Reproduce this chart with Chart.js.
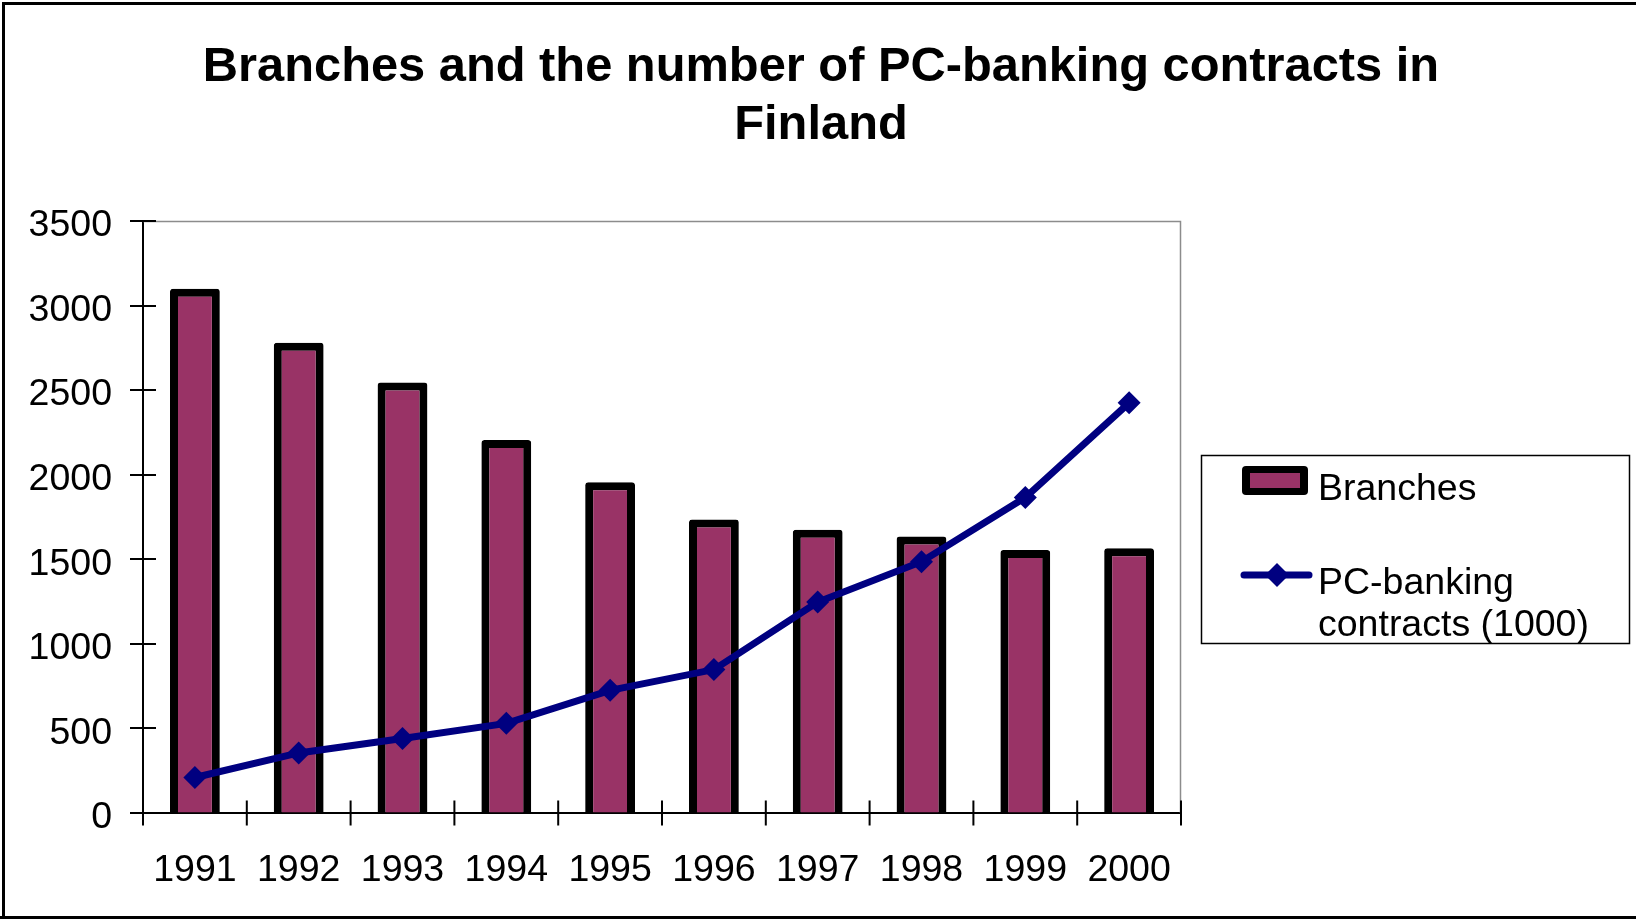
<!DOCTYPE html>
<html>
<head>
<meta charset="utf-8">
<script src="https://cdn.jsdelivr.net/npm/chart.js@4.4.1/dist/chart.umd.min.js"></script>
<style>
  html, body { margin: 0; padding: 0; background: #ffffff; }
  #wrap { position: relative; width: 1636px; height: 919px; }
  canvas { display: block; }
</style>
</head>
<body>
<div id="wrap"><canvas id="c" width="1636" height="919"></canvas></div>
<script>
// ---- data ----
const titleLines = ['Branches and the number of PC-banking contracts in', 'Finland'];
const years = ['1991', '1992', '1993', '1994', '1995', '1996', '1997', '1998', '1999', '2000'];
const branches = [3100, 2780, 2545, 2205, 1955, 1735, 1675, 1635, 1555, 1565];
const pcBanking = [210, 355, 440, 530, 725, 848, 1247, 1486, 1865, 2425];
const branchesLabel = ['Branches'];
const pcBankingLabel = ['PC-banking', 'contracts (1000)'];
const yMin = 0, yMax = 3500, yStep = 500;

const FONT = "'Liberation Sans', Arial, sans-serif";
const BAR_FILL = '#993366';
const LINE_COL = '#000080';

const decorPlugin = {
  id: 'decor',
  beforeDatasetsDraw(chart) {
    const ctx = chart.ctx, a = chart.chartArea;
    ctx.save();
    ctx.strokeStyle = '#8c8c8c';
    ctx.lineWidth = 1.5;
    ctx.beginPath();
    ctx.moveTo(a.left, a.top + 0.5);
    ctx.lineTo(a.right - 0.5, a.top + 0.5);
    ctx.lineTo(a.right - 0.5, a.bottom);
    ctx.stroke();
    ctx.restore();
  },
  afterDraw(chart) {
    const ctx = chart.ctx, a = chart.chartArea;
    const xs = chart.scales.x, ys = chart.scales.y;
    ctx.save();
    // title, centred on the whole canvas
    ctx.fillStyle = '#000';
    ctx.font = 'bold 48.8px ' + FONT;
    ctx.textAlign = 'center';
    ctx.textBaseline = 'middle';
    titleLines.forEach((s, i) => ctx.fillText(s, chart.width / 2 + 3, 68 + i * 57.5));

    // axis tick marks crossing the axes
    ctx.strokeStyle = '#000';
    ctx.lineWidth = 2;
    ctx.beginPath();
    ys.ticks.forEach((t, i) => {
      const py = Math.round(ys.getPixelForTick(i));
      ctx.moveTo(a.left - 13, py);
      ctx.lineTo(a.left + 13, py);
    });
    const n = years.length;
    for (let i = 0; i <= n; i++) {
      const px = i === 0 ? xs.left : (i === n ? xs.right : (xs.getPixelForValue(i - 1) + xs.getPixelForValue(i)) / 2);
      ctx.moveTo(px, a.bottom - 12.5);
      ctx.lineTo(px, a.bottom + 12.5);
    }
    ctx.stroke();

    // legend
    const lx = 1201, ly = 455, lw = 428, lh = 188;
    ctx.lineWidth = 1.5;
    ctx.strokeStyle = '#000';
    ctx.strokeRect(lx + 0.5, ly + 0.5, lw, lh);
    // bar swatch
    ctx.fillStyle = '#000';
    roundRect(ctx, 1242, 466, 66, 29, 4);
    ctx.fill();
    ctx.fillStyle = BAR_FILL;
    ctx.fillRect(1250, 473, 50, 15);
    // line swatch
    ctx.strokeStyle = LINE_COL;
    ctx.lineWidth = 7;
    ctx.lineCap = 'round';
    ctx.beginPath();
    ctx.moveTo(1244, 575);
    ctx.lineTo(1309, 575);
    ctx.stroke();
    ctx.fillStyle = LINE_COL;
    ctx.beginPath();
    ctx.moveTo(1277, 563); ctx.lineTo(1289, 575); ctx.lineTo(1277, 587); ctx.lineTo(1265, 575);
    ctx.closePath();
    ctx.fill();
    // legend text
    ctx.fillStyle = '#000';
    ctx.font = '37.5px ' + FONT;
    ctx.textAlign = 'left';
    ctx.textBaseline = 'alphabetic';
    branchesLabel.forEach((s, i) => ctx.fillText(s, 1318, 500 + i * 42));
    pcBankingLabel.forEach((s, i) => ctx.fillText(s, 1318, 594 + i * 42));

    // outer frame
    ctx.strokeStyle = '#000';
    ctx.lineWidth = 3;
    ctx.beginPath();
    ctx.moveTo(3.5, 919);
    ctx.lineTo(3.5, 3.5);
    ctx.lineTo(1636, 3.5);
    ctx.stroke();
    ctx.beginPath();
    ctx.moveTo(0, 917.5);
    ctx.lineTo(1636, 917.5);
    ctx.stroke();
    ctx.restore();
  }
};

function roundRect(ctx, x, y, w, h, r) {
  ctx.beginPath();
  ctx.moveTo(x + r, y);
  ctx.lineTo(x + w - r, y);
  ctx.quadraticCurveTo(x + w, y, x + w, y + r);
  ctx.lineTo(x + w, y + h - r);
  ctx.quadraticCurveTo(x + w, y + h, x + w - r, y + h);
  ctx.lineTo(x + r, y + h);
  ctx.quadraticCurveTo(x, y + h, x, y + h - r);
  ctx.lineTo(x, y + r);
  ctx.quadraticCurveTo(x, y, x + r, y);
  ctx.closePath();
}

new Chart(document.getElementById('c'), {
  type: 'bar',
  data: {
    labels: years,
    datasets: [
      {
        type: 'line',
        label: pcBankingLabel.join(' '),
        data: pcBanking,
        borderColor: LINE_COL,
        backgroundColor: LINE_COL,
        borderWidth: 7,
        tension: 0,
        pointStyle: 'rectRot',
        pointRadius: 11.5,
        pointBackgroundColor: LINE_COL,
        pointBorderColor: LINE_COL,
        pointBorderWidth: 0,
        order: 0
      },
      {
        type: 'bar',
        label: branchesLabel.join(' '),
        data: branches,
        backgroundColor: BAR_FILL,
        borderColor: '#000',
        borderWidth: 8,
        borderRadius: 3,
        categoryPercentage: 1,
        barPercentage: 0.48,
        order: 1
      }
    ]
  },
  options: {
    responsive: false,
    animation: false,
    devicePixelRatio: 1,
    events: [],
    layout: { padding: { top: 221, left: 0, right: 455, bottom: 0 } },
    plugins: {
      legend: { display: false },
      tooltip: { enabled: false },
      title: { display: false }
    },
    scales: {
      x: {
        grid: { display: true, drawOnChartArea: false, drawTicks: false, offset: true },
        border: { display: true, color: '#000', width: 2 },
        ticks: { color: '#000', font: { family: FONT, size: 37.5 }, padding: 35, maxRotation: 0, autoSkip: false },
        afterFit(s) { s.height = 106; }
      },
      y: {
        min: yMin,
        max: yMax,
        grid: { display: true, drawOnChartArea: false, drawTicks: false },
        border: { display: true, color: '#000', width: 2 },
        ticks: {
          stepSize: yStep, color: '#000', font: { family: FONT, size: 37.5 }, padding: 31, labelOffset: 5,
          callback: (v) => String(v)
        },
        afterFit(s) { s.width = 143; }
      }
    }
  },
  plugins: [decorPlugin]
});
</script>
</body>
</html>
